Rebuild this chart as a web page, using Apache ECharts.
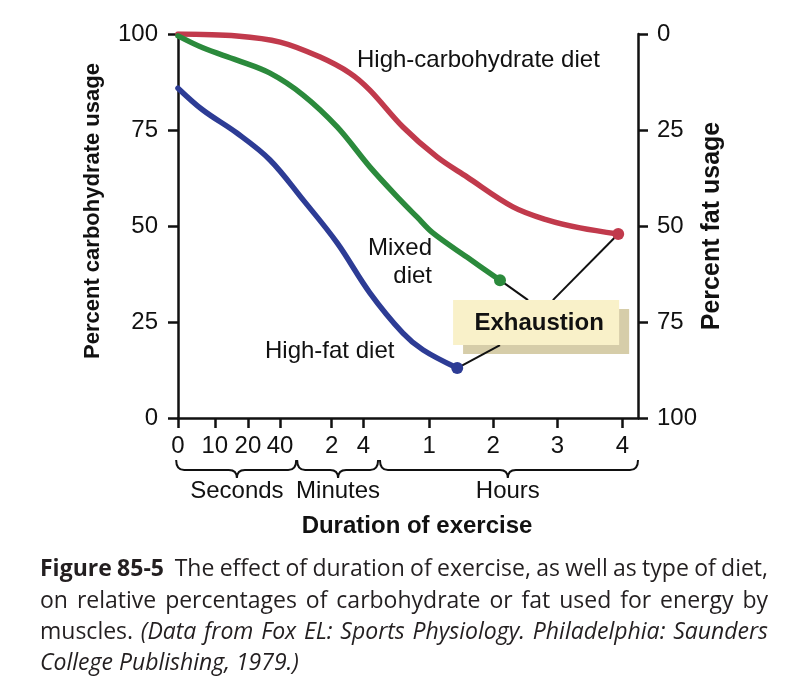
<!DOCTYPE html>
<html><head><meta charset="utf-8">
<script src="https://cdn.jsdelivr.net/npm/echarts@6/dist/echarts.min.js"></script>
<style>html,body{margin:0;padding:0;background:#fff}#c{width:791px;height:687px}</style>
</head><body><div id="c"></div>
<script>
// ---- Data (x = position along the piecewise duration axis, 0..100 axis units) ----
const tickPositions = [0, 8.0, 15.2, 22.2, 33.4, 40.3, 54.6, 68.5, 82.5, 96.6];
const tickLabels = ['0', '10', '20', '40', '2', '4', '1', '2', '3', '4'];
const yTicks = [0, 25, 50, 75, 100];

const highCarbX = [0, 12.8, 22.2, 30.9, 37.4, 41.7, 48.9, 56.3, 62.8, 72.8, 80.2, 87.4, 95.7];
const highCarbY = [100, 99.5, 97.9, 94.0, 89.8, 85.4, 75.8, 68.0, 62.8, 55.0, 51.6, 49.5, 47.9];

const mixedX = [0, 5.4, 12.8, 20, 27.2, 34.6, 41.7, 48.3, 52.0, 55.4, 62.8, 70.0];
const mixedY = [99.5, 96.4, 93.2, 89.8, 84.1, 75.8, 65.4, 56.8, 52.3, 48.2, 41.9, 35.9];

const highFatX = [0, 5.4, 12.8, 20, 27.2, 34.6, 41.7, 48.9, 53.3, 60.7];
const highFatY = [85.9, 80.2, 74.2, 67.2, 56.8, 45.6, 32.6, 22.1, 17.7, 13.0];

const groupNames = ['Seconds', 'Minutes', 'Hours'];
const groupFrom = [-0.4, 25.9, 43.9];
const groupTo = [25.7, 43.5, 100];
const groupMid = [12.8, 34.8, 71.7];

// Exhaustion annotation, in data units
const exhaustLabel = 'Exhaustion';
const exhaustBox = { x0: 59.8, x1: 95.9, yTop: 30.7, yBottom: 19.0 };
const exhaustAnchorHighFat = [70.0, 19.0];
const exhaustAnchorMixed = [76.1, 30.7];
const exhaustAnchorHighCarb = [81.5, 30.7];

// ---- Styles ----
const FONT = "'Liberation Sans', Arial, Helvetica, sans-serif";
const CAP_FONT = "'Open Sans', 'Noto Sans', sans-serif";
const RED = '#c13a4c', GREEN = '#2b8a3c', BLUE = '#2d3c95';
const INK = '#111';

const zip = (xs, ys) => xs.map((x, i) => [x, ys[i]]);
const hc = zip(highCarbX, highCarbY);
const mx = zip(mixedX, mixedY);
const hf = zip(highFatX, highFatY);
const last = a => a[a.length - 1];

function nearestLabel(v) {
  let bi = 0, bd = Infinity;
  tickPositions.forEach((p, i) => { const d = Math.abs(p - v); if (d < bd) { bd = d; bi = i; } });
  return tickLabels[bi];
}

const chart = echarts.init(document.getElementById('c'), null, { renderer: 'canvas' });

const axisLineStyle = { color: INK, width: 2.5 };
const lineSeries = (name, data, color) => ({
  name, type: 'line', data, smooth: 0.35, showSymbol: false, z: 3,
  lineStyle: { color, width: 5.5, cap: 'round' }, itemStyle: { color }, silent: true
});

const option = {
  animation: false,
  backgroundColor: '#fff',
  grid: { left: 178, right: 153, top: 34, bottom: 269, containLabel: false },
  xAxis: {
    type: 'value', min: 0, max: 100,
    name: 'Duration of exercise', nameLocation: 'middle', nameGap: 96, nameMoveOverlap: false,
    nameTextStyle: { fontFamily: FONT, fontWeight: 'bold', fontSize: 24, color: INK, padding: [0, 0, 0, 18] },
    axisLine: { show: true, lineStyle: axisLineStyle },
    axisTick: { show: true, customValues: tickPositions, length: 10, lineStyle: axisLineStyle },
    axisLabel: { show: true, customValues: tickPositions, formatter: v => nearestLabel(v),
      fontFamily: FONT, fontSize: 24, color: INK, margin: 16 },
    splitLine: { show: false }
  },
  yAxis: [
    {
      type: 'value', min: 0, max: 100, interval: 25, position: 'left',
      name: 'Percent carbohydrate usage', nameLocation: 'middle', nameGap: 74, nameRotate: 90,
      nameTextStyle: { fontFamily: FONT, fontWeight: 'bold', fontSize: 22, color: INK, padding: [0, 0, 0, 30] },
      axisLine: { show: true, lineStyle: axisLineStyle },
      axisTick: { show: true, length: 10, lineStyle: axisLineStyle },
      axisLabel: { fontFamily: FONT, fontSize: 24, color: INK, margin: 20 },
      splitLine: { show: false }
    },
    {
      type: 'value', min: 0, max: 100, interval: 25, position: 'right', inverse: true,
      name: 'Percent fat usage', nameLocation: 'middle', nameGap: 62, nameRotate: 90, nameMoveOverlap: false,
      nameTextStyle: { fontFamily: FONT, fontWeight: 'bold', fontSize: 25, color: INK },
      axisLine: { show: true, lineStyle: axisLineStyle },
      axisTick: { show: true, length: 10, lineStyle: axisLineStyle },
      axisLabel: { fontFamily: FONT, fontSize: 24, color: INK, margin: 19 },
      splitLine: { show: false }
    }
  ],
  series: [
    {
      type: 'custom', coordinateSystem: 'cartesian2d', clip: false, silent: true, z: 2,
      data: [[exhaustBox.x0, exhaustBox.yTop]],
      renderItem: (params, api) => {
        const tl = api.coord([exhaustBox.x0, exhaustBox.yTop]);
        const br = api.coord([exhaustBox.x1, exhaustBox.yBottom]);
        const w = br[0] - tl[0], h = br[1] - tl[1];
        const pairs = [[last(hf), exhaustAnchorHighFat], [last(mx), exhaustAnchorMixed], [last(hc), exhaustAnchorHighCarb]];
        const lines = pairs.map(([a, b]) => {
          const p = api.coord(a), q = api.coord(b);
          return { type: 'line', shape: { x1: p[0], y1: p[1], x2: q[0], y2: q[1] }, style: { stroke: INK, lineWidth: 2 } };
        });
        return {
          type: 'group',
          children: [
            { type: 'rect', shape: { x: tl[0] + 10, y: tl[1] + 9, width: w, height: h }, style: { fill: '#d6cda9' } },
            ...lines,
            { type: 'rect', shape: { x: tl[0], y: tl[1], width: w, height: h }, style: { fill: '#f9f1c9' } },
            { type: 'text', style: { text: exhaustLabel, x: tl[0] + w / 2 + 3, y: tl[1] + h / 2 + 1, align: 'center', verticalAlign: 'middle',
              fontFamily: FONT, fontWeight: 'bold', fontSize: 24, fill: INK } }
          ]
        };
      }
    },
    {
      // braces grouping the duration ticks
      type: 'custom', coordinateSystem: 'cartesian2d', clip: false, silent: true, z: 2,
      data: groupNames.map((n, i) => [groupFrom[i], groupTo[i], groupMid[i]]),
      renderItem: (params, api) => {
        const i = params.dataIndex;
        const base = api.coord([0, 0])[1];
        const a = api.coord([groupFrom[i], 0])[0], b = api.coord([groupTo[i], 0])[0], m = api.coord([groupMid[i], 0])[0];
        const top = base + 42, mid = base + 52, pt = base + 60, r = 8;
        const path = `M${a} ${top} Q${a} ${mid} ${a + r} ${mid} L${m - r} ${mid} Q${m} ${mid} ${m} ${pt} Q${m} ${mid} ${m + r} ${mid} L${b - r} ${mid} Q${b} ${mid} ${b} ${top}`;
        return {
          type: 'group',
          children: [
            { type: 'path', shape: { pathData: path }, style: { stroke: INK, lineWidth: 2, fill: 'none' } },
            { type: 'text', style: { text: groupNames[i], x: m, y: base + 73, align: 'center', verticalAlign: 'middle',
              fontFamily: FONT, fontSize: 24, fill: INK } }
          ]
        };
      }
    },
    lineSeries('High-carbohydrate diet', hc, RED),
    lineSeries('Mixed diet', mx, GREEN),
    lineSeries('High-fat diet', hf, BLUE),
    {
      type: 'scatter', z: 4, silent: true, symbol: 'circle', symbolSize: 12,
      data: [
        { value: last(hc), itemStyle: { color: RED, opacity: 1 } },
        { value: last(mx), itemStyle: { color: GREEN, opacity: 1 } },
        { value: last(hf), itemStyle: { color: BLUE, opacity: 1 } }
      ]
    }
  ]
};
chart.setOption(option);

// ---- Text decorations: series labels, caption ----
const graphics = [];
const seriesText = (text, x, y, align) => ({ type: 'text', style: { text, x, y, align, verticalAlign: 'middle', fontFamily: FONT, fontSize: 24, fill: INK } });
graphics.push(seriesText('High-carbohydrate diet', 357, 60, 'left'));
graphics.push(seriesText('Mixed', 432, 248, 'right'));
graphics.push(seriesText('diet', 432, 276, 'right'));
graphics.push(seriesText('High-fat diet', 265, 351, 'left'));

// Caption with justified lines
const captionLines = [
  [{ t: 'Figure 85-5', w: 'bold' }, { t: 'The effect of duration of exercise, as well as type of diet,', gap: 2 }],
  [{ t: 'on relative percentages of carbohydrate or fat used for energy by' }],
  [{ t: 'muscles.' }, { t: '(Data from Fox EL: Sports Physiology. Philadelphia: Saunders', s: 'italic' }],
  [{ t: 'College Publishing, 1979.)', s: 'italic' }]
];
const captionJustify = [true, true, true, false];
const captionBaselines = [578, 610, 641, 672];
const capSize = 23, capX0 = 40, capX1 = 768, capColor = '#231f20';
const ctx = document.createElement('canvas').getContext('2d');
const fontStr = (w, s) => `${s || 'normal'} ${w || 'normal'} ${capSize}px ${CAP_FONT}`;

captionLines.forEach((segs, li) => {
  const words = [];
  segs.forEach((seg, si) => {
    seg.t.split(' ').forEach((wd, wi) => {
      words.push({ text: wd, w: seg.w, s: seg.s, gap: (wi === 0 && si > 0) ? (seg.gap || 1) : 1 });
    });
  });
  words.forEach(wd => { ctx.font = fontStr(wd.w, wd.s); wd.width = ctx.measureText(wd.text).width; });
  const total = words.reduce((s, w) => s + w.width, 0);
  const units = words.slice(1).reduce((s, w) => s + w.gap, 0);
  ctx.font = fontStr();
  const natSpace = ctx.measureText(' ').width;
  const space = captionJustify[li] && units > 0 ? (capX1 - capX0 - total) / units : natSpace;
  let x = capX0;
  words.forEach((wd, i) => {
    if (i > 0) x += space * wd.gap;
    graphics.push({ type: 'text', style: { text: wd.text, x, y: captionBaselines[li] - 0.36 * capSize, align: 'left', verticalAlign: 'middle',
      fontFamily: CAP_FONT, fontSize: capSize, fontWeight: wd.w || 'normal', fontStyle: wd.s || 'normal', fill: capColor } });
    x += wd.width;
  });
});

chart.setOption({ graphic: graphics });
</script>
</body></html>
